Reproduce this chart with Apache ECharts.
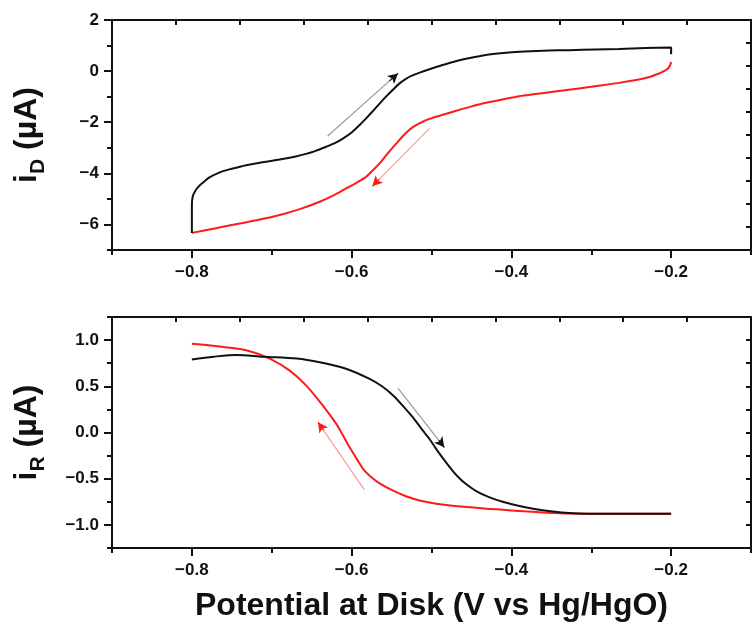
<!DOCTYPE html>
<html>
<head>
<meta charset="utf-8">
<script src="https://cdn.jsdelivr.net/npm/echarts@6/dist/echarts.min.js"></script>
<style>
  html, body { margin: 0; padding: 0; background: #fff; }
  #chart { width: 752px; height: 625px; }
</style>
</head>
<body>
<div id="chart"></div>
<script>
// Disk current, forward (cathodic -> anodic) and reverse sweeps
const diskFwdE = [-0.8, -0.8, -0.8, -0.799, -0.796, -0.792, -0.786, -0.778, -0.765, -0.75, -0.732, -0.71, -0.69, -0.67, -0.657, -0.645, -0.632, -0.621, -0.611, -0.6, -0.59, -0.581, -0.573, -0.565, -0.557, -0.548, -0.54, -0.532, -0.523, -0.513, -0.5025, -0.488, -0.473, -0.452, -0.432, -0.41, -0.39, -0.36, -0.3275, -0.295, -0.265, -0.232, -0.2, -0.2];
const diskFwdI = [-6.33, -5.8, -5.25, -4.92, -4.7, -4.53, -4.36, -4.16, -3.96, -3.82, -3.68, -3.56, -3.46, -3.34, -3.24, -3.12, -2.96, -2.82, -2.64, -2.4, -2.11, -1.82, -1.55, -1.27, -1.0, -0.72, -0.48, -0.3, -0.16, -0.04, 0.07, 0.22, 0.36, 0.51, 0.63, 0.71, 0.76, 0.8, 0.82, 0.85, 0.87, 0.9, 0.92, 0.66];
const diskRevE = [-0.2, -0.201, -0.204, -0.209, -0.215, -0.228, -0.244, -0.265, -0.286, -0.318, -0.348, -0.37, -0.39, -0.41, -0.432, -0.452, -0.473, -0.488, -0.5025, -0.513, -0.523, -0.533, -0.544, -0.555, -0.565, -0.574, -0.582, -0.594, -0.607, -0.622, -0.64, -0.665, -0.69, -0.715, -0.74, -0.77, -0.8];
const diskRevI = [0.36, 0.25, 0.1, 0.0, -0.09, -0.24, -0.35, -0.46, -0.55, -0.69, -0.81, -0.9, -0.98, -1.1, -1.24, -1.4, -1.59, -1.73, -1.87, -2.01, -2.18, -2.45, -2.83, -3.23, -3.61, -3.9, -4.14, -4.37, -4.59, -4.85, -5.11, -5.4, -5.63, -5.81, -5.96, -6.15, -6.33];

// Ring current for the same sweeps
const ringFwdE = [-0.8, -0.773, -0.744, -0.711, -0.669, -0.64, -0.607, -0.5775, -0.562, -0.548, -0.535, -0.523, -0.5125, -0.5025, -0.494, -0.483, -0.473, -0.465, -0.458, -0.444, -0.428, -0.411, -0.39, -0.369, -0.348, -0.3275, -0.286, -0.24, -0.2];
const ringFwdI = [0.79, 0.82, 0.84, 0.82, 0.8, 0.76, 0.69, 0.58, 0.5, 0.4, 0.28, 0.16, 0.04, -0.07, -0.18, -0.31, -0.42, -0.495, -0.55, -0.635, -0.7, -0.75, -0.795, -0.83, -0.855, -0.87, -0.88, -0.88, -0.88];
const ringRevE = [-0.2, -0.26, -0.3, -0.34, -0.39, -0.4525, -0.494, -0.515, -0.532, -0.548, -0.565, -0.576, -0.586, -0.594, -0.6025, -0.611, -0.619, -0.636, -0.657, -0.6775, -0.7025, -0.732, -0.765, -0.8];
const ringRevI = [-0.88, -0.88, -0.88, -0.875, -0.85, -0.81, -0.77, -0.735, -0.69, -0.63, -0.55, -0.48, -0.39, -0.28, -0.16, -0.03, 0.09, 0.29, 0.51, 0.67, 0.8, 0.89, 0.93, 0.96];

// Sweep-direction arrows: [E start, I start, E end, I end]
const diskFwdArrow = [-0.63, -2.54, -0.542, -0.09];
const diskRevArrow = [-0.5025, -2.24, -0.574, -4.5];
const ringFwdArrow = [-0.542, 0.48, -0.484, -0.16];
const ringRevArrow = [-0.584, -0.62, -0.642, 0.11];

// Axis ticks and labels
const potentialMajor = [-0.8, -0.6, -0.4, -0.2];
const potentialMinor = [-0.9, -0.7, -0.5, -0.3, -0.1];
const diskMajor = [-6, -4, -2, 0, 2];
const diskMinor = [-7, -5, -3, -1, 1];
const ringMajor = [-1.0, -0.5, 0.0, 0.5, 1.0];
const ringMinor = [-1.25, -0.75, -0.25, 0.25, 0.75, 1.25];

const FONT = 'Liberation Sans, Arial, sans-serif';
const INK = '#111';

function zip(xs, ys) { return xs.map((x, i) => [x, ys[i]]); }
function signed(v, digits) {
  const s = Math.abs(v).toFixed(digits);
  return (v < -1e-9 ? '\u2212' : '') + s;
}

const labelStyle = { color: INK, fontFamily: FONT, fontWeight: 'bold', fontSize: 17 };
const lineStyleAxis = { color: INK, width: 2 };

function potentialAxes(gridIndex, withName) {
  const major = {
    type: 'value', gridIndex, position: 'bottom', min: -0.9, max: -0.1,
    axisLine: { show: true, onZero: false, lineStyle: lineStyleAxis },
    axisTick: { show: true, customValues: potentialMajor, length: 8, lineStyle: { color: INK, width: 2 } },
    axisLabel: Object.assign({ customValues: potentialMajor, margin: 14, formatter: v => signed(v, 1) }, labelStyle),
    splitLine: { show: false }
  };
  if (withName) {
    Object.assign(major, {
      name: 'Potential at Disk (V vs Hg/HgO)', nameLocation: 'middle', nameGap: 42,
      nameTextStyle: { color: INK, fontFamily: FONT, fontWeight: 'bold', fontSize: 32 }
    });
  }
  const minor = {
    type: 'value', gridIndex, position: 'bottom', min: -0.9, max: -0.1,
    axisLine: { show: false, onZero: false },
    axisTick: { show: true, customValues: potentialMinor, length: 5, lineStyle: { color: INK, width: 2 } },
    axisLabel: { show: false }, splitLine: { show: false }
  };
  const top = {
    type: 'value', gridIndex, position: 'top', min: 0, max: 10, interval: 1,
    axisLine: { show: true, onZero: false, lineStyle: lineStyleAxis },
    axisTick: { show: true, inside: true, length: 5, lineStyle: { color: INK, width: 2 } },
    axisLabel: { show: false }, splitLine: { show: false }
  };
  return [major, minor, top];
}

function currentAxes(gridIndex, min, max, major, minorVals, digits, sub) {
  const main = {
    type: 'value', gridIndex, position: 'left', min, max,
    axisLine: { show: true, onZero: false, lineStyle: lineStyleAxis },
    axisTick: { show: true, customValues: major, length: 8, lineStyle: { color: INK, width: 2 } },
    axisLabel: Object.assign({ customValues: major, margin: 13, formatter: v => signed(v, digits) }, labelStyle),
    splitLine: { show: false },
    name: '{m|i}{s|' + sub + '}{m| (\u00b5A)}',
    nameLocation: 'middle', nameRotate: 90, nameGap: 65,
    nameTextStyle: {
      rich: {
        m: { fontFamily: FONT, fontWeight: 'bold', fontSize: 32, color: INK, lineHeight: 40, verticalAlign: 'top', padding: [4, 0, 0, 0] },
        s: { fontFamily: FONT, fontWeight: 'bold', fontSize: 21, color: INK, lineHeight: 22, verticalAlign: 'top', padding: [21, 0, 0, 0] }
      }
    }
  };
  const minor = {
    type: 'value', gridIndex, position: 'left', min, max,
    axisLine: { show: false, onZero: false },
    axisTick: { show: true, customValues: minorVals, length: 5, lineStyle: { color: INK, width: 2 } },
    axisLabel: { show: false }, splitLine: { show: false }
  };
  const right = {
    type: 'value', gridIndex, position: 'right', min: 0, max: 10, interval: 1,
    axisLine: { show: true, onZero: false, lineStyle: lineStyleAxis },
    axisTick: { show: true, inside: true, length: 5, lineStyle: { color: INK, width: 2 } },
    axisLabel: { show: false }, splitLine: { show: false }
  };
  return [main, minor, right];
}

function arrowMark(arr, shaftColor, headColor) {
  const from = [arr[0], arr[1]];
  const to = [arr[2], arr[3]];
  const near = [to[0] + 0.12 * (from[0] - to[0]), to[1] + 0.12 * (from[1] - to[1])];
  return {
    silent: true, animation: false, symbolSize: [8, 10],
    label: { show: false },
    emphasis: { disabled: true },
    data: [
      [{ coord: from, symbol: 'none', lineStyle: { color: shaftColor, width: 1.2, type: 'solid' } }, { coord: to, symbol: 'none' }],
      [{ coord: near, symbol: 'none', lineStyle: { color: headColor, width: 1.2, type: 'solid' } }, { coord: to, symbol: 'arrow' }]
    ]
  };
}

function curve(name, xi, yi, xs, ys, color, mark) {
  return {
    name, type: 'line', xAxisIndex: xi, yAxisIndex: yi,
    data: zip(xs, ys), showSymbol: false, smooth: 0.3, animation: false,
    lineStyle: { color, width: 2 }, itemStyle: { color },
    markLine: mark
  };
}

const option = {
  backgroundColor: '#fff',
  animation: false,
  grid: [
    { left: 112, top: 20, width: 639, height: 230, outerBoundsMode: 'none' },
    { left: 112, top: 317, width: 639, height: 231, outerBoundsMode: 'none' }
  ],
  xAxis: [].concat(potentialAxes(0, false), potentialAxes(1, true)),
  yAxis: [].concat(
    currentAxes(0, -7, 2, diskMajor, diskMinor, 0, 'D'),
    currentAxes(1, -1.25, 1.25, ringMajor, ringMinor, 1, 'R')
  ),
  series: [
    curve('disk reverse', 0, 0, diskRevE, diskRevI, '#ff1a1a', arrowMark(diskRevArrow, '#ff9a9a', '#ff1a1a')),
    curve('disk forward', 0, 0, diskFwdE, diskFwdI, '#111', arrowMark(diskFwdArrow, '#9a9a9a', '#111')),
    curve('ring reverse', 3, 3, ringRevE, ringRevI, '#ff1a1a', arrowMark(ringRevArrow, '#ff9a9a', '#ff1a1a')),
    curve('ring forward', 3, 3, ringFwdE, ringFwdI, '#111', arrowMark(ringFwdArrow, '#9a9a9a', '#111'))
  ]
};

const chart = echarts.init(document.getElementById('chart'), null, { renderer: 'canvas' });
chart.setOption(option);
</script>
</body>
</html>
